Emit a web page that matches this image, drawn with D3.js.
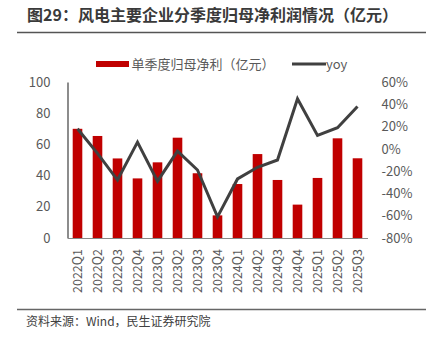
<!DOCTYPE html>
<html><head><meta charset="utf-8">
<script src="https://cdn.jsdelivr.net/npm/d3@7"></script>
<style>body{margin:0;background:#fff}svg{display:block}</style>
</head><body>
<script>
const categories = ["2022Q1","2022Q2","2022Q3","2022Q4","2023Q1","2023Q2","2023Q3","2023Q4","2024Q1","2024Q2","2024Q3","2024Q4","2025Q1","2025Q2","2025Q3"];
const profit = [70, 65.4, 51, 38.2, 48.5, 64.3, 41.5, 14.5, 34.6, 53.8, 37.2, 21.4, 38.5, 63.9, 51.1];
const yoy = [18, -4, -28, 6, -29, -2, -19, -61, -27, -16.5, -10, 45, 12, 19, 38];
const leftTicks = [0, 20, 40, 60, 80, 100];
const rightTicks = [-80, -60, -40, -20, 0, 20, 40, 60];
const seriesNames = ["单季度归母净利（亿元）", "yoy"];
const titleText = "图29：风电主要企业分季度归母净利润情况（亿元）";
const sourceText = "资料来源：Wind，民生证券研究院";

const W = 426, H = 338;
const font = "'Noto Sans CJK SC','Noto Sans',sans-serif";
const svg = d3.select("body").append("svg").attr("width", W).attr("height", H);

const x = d3.scaleBand().domain(categories).range([67.5, 367.5]).paddingInner(0.52).paddingOuter(0.26);
const yL = d3.scaleLinear().domain([0, 100]).range([238, 82]);
const yR = d3.scaleLinear().domain([-80, 60]).range([238, 82]);

// title
svg.append("text").attr("x", 27).attr("y", 21).attr("font-family", font).attr("font-size", 16)
  .attr("font-weight", "bold").attr("fill", "#3a3a3a").text(titleText);
svg.append("line").attr("x1", 17).attr("x2", W).attr("y1", 32.5).attr("y2", 32.5).attr("stroke", "#555").attr("stroke-width", 1.5);

// bars
svg.append("g").selectAll("rect").data(profit).join("rect")
  .attr("x", (d, i) => x(categories[i])).attr("width", x.bandwidth())
  .attr("y", d => yL(d)).attr("height", d => yL(0) - yL(d)).attr("fill", "#C00000");

// line
const line = d3.line().x((d, i) => x(categories[i]) + x.bandwidth() / 2).y(d => yR(d));
svg.append("path").datum(yoy).attr("d", line).attr("fill", "none").attr("stroke", "#404040")
  .attr("stroke-width", 3).attr("stroke-linejoin", "miter");

// axes
const axL = svg.append("g").attr("transform", "translate(67.5,0)")
  .call(d3.axisLeft(yL).tickValues(leftTicks).tickSize(0).tickPadding(17));
axL.select(".domain").attr("stroke", "#404040").attr("stroke-width", 1.2);
axL.selectAll("text").attr("font-family", font).attr("font-size", 13).attr("fill", "#595959");

const axR = svg.append("g").attr("transform", "translate(367.5,0)")
  .call(d3.axisRight(yR).tickValues(rightTicks).tickSize(0).tickPadding(14).tickFormat(d => d + "%"));
axR.select(".domain").remove();
axR.selectAll("text").attr("font-family", font).attr("font-size", 13).attr("fill", "#595959");

const axB = svg.append("g").attr("transform", "translate(0,238)")
  .call(d3.axisBottom(x).tickSize(0).tickPadding(0));
axB.select(".domain").attr("stroke", "#888").attr("stroke-width", 1.2);
axB.selectAll("text").attr("font-family", font).attr("font-size", 12.5).attr("fill", "#595959")
  .attr("transform", "rotate(-90)").attr("text-anchor", "end").attr("dy", "0.35em").attr("x", -11).attr("y", 0);

// legend
svg.append("rect").attr("x", 96).attr("y", 61).attr("width", 33).attr("height", 6).attr("fill", "#C00000");
svg.append("text").attr("x", 131.5).attr("y", 68.5).attr("font-family", font).attr("font-size", 13)
  .attr("fill", "#595959").text(seriesNames[0]);
svg.append("line").attr("x1", 292).attr("x2", 326).attr("y1", 64).attr("y2", 64).attr("stroke", "#404040").attr("stroke-width", 3);
svg.append("text").attr("x", 326).attr("y", 68.5).attr("font-family", font).attr("font-size", 13)
  .attr("fill", "#595959").text(seriesNames[1]);

// footer
svg.append("line").attr("x1", 17).attr("x2", W).attr("y1", 309.5).attr("y2", 309.5).attr("stroke", "#666").attr("stroke-width", 1.5);
svg.append("text").attr("x", 26).attr("y", 326).attr("font-family", font).attr("font-size", 12)
  .attr("fill", "#404040").text(sourceText);
</script>
</body></html>
